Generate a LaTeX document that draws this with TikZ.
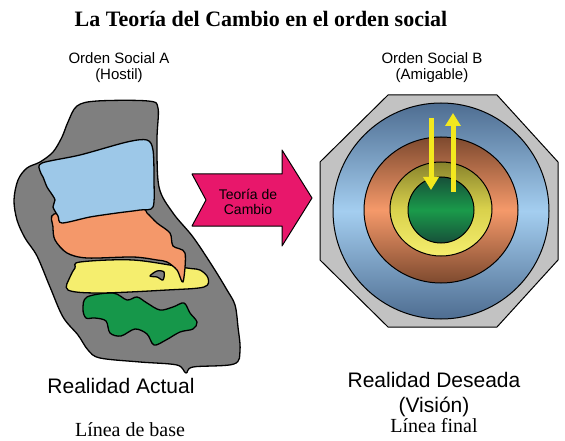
\documentclass[tikz,border=0pt]{standalone}
\usepackage{fontspec}
\setmainfont{Liberation Serif}
\newfontfamily\handfont{Liberation Sans}
\usetikzlibrary{arrows.meta}

\definecolor{blobgray}{HTML}{7F7F7F}
\definecolor{skyblue}{HTML}{9DC8E8}
\definecolor{salmon}{HTML}{F4986A}
\definecolor{paleyellow}{HTML}{F5EE6E}
\definecolor{leafgreen}{HTML}{16974A}
\definecolor{hotpink}{HTML}{E8176B}
\definecolor{octgray}{HTML}{C2C2C2}
\definecolor{arrowyellow}{HTML}{F3E81E}
\definecolor{slateblue}{HTML}{4E6D91}
\definecolor{lightblue}{HTML}{A4CEF0}
\definecolor{rust}{HTML}{7E4A2F}
\definecolor{lightsalmon}{HTML}{F5996A}
\definecolor{olivegold}{HTML}{88832C}
\definecolor{midyellow}{HTML}{D9D14C}
\definecolor{darkgreen}{HTML}{17503A}
\definecolor{midgreen}{HTML}{1A9A4A}

\begin{document}
\begin{tikzpicture}[x=1pt,y=-1pt,
    blob/.style={draw=black,line width=1.3pt,line join=round},
    hand/.style={font=\handfont\fontsize{15}{16}\selectfont,align=center,inner sep=0pt},
    big/.style={font=\handfont\fontsize{21}{25}\selectfont,align=center,inner sep=0pt},
    serif/.style={font=\fontsize{20}{24}\selectfont,inner sep=0pt},
    ring/.style={draw=black,line width=1pt},
    flow/.style={arrowyellow,line width=5pt,-{Triangle[width=15pt,length=13pt]}}]

  \useasboundingbox (0,0) rectangle (565,441);

  \node[font=\bfseries\fontsize{22}{26}\selectfont,anchor=base,inner sep=0pt]
       (title) at (261,27) {La Teoría del Cambio en el orden social};

  \node[hand,anchor=north] (ordA) at (119,52) {Orden Social A\\(Hostil)};
  \node[hand,anchor=north] (ordB) at (432,52) {Orden Social B\\(Amigable)};

  % realidad actual
  \path[blob,fill=blobgray] plot[smooth cycle,tension=0.55] coordinates {
    (77,106) (97,101) (148,101) (158,108) (157,140) (159,187) (173,213)
    (193,237) (213,267) (227,290) (235,305) (238,327) (240,350) (234,364)
    (193,367) (186,373) (177,365) (140,362) (100,358) (88,350) (78,335)
    (63,317) (50,287) (37,256) (25,238) (17,220) (14,200) (18,180)
    (27,168) (40,162) (53,152) (62,137) (68,122)};
  \path[blob,fill=leafgreen] plot[smooth cycle,tension=0.55] coordinates {
    (87,297) (113,293) (127,300) (137,297) (147,303) (160,310) (173,307)
    (184,303) (190,313) (197,322) (193,329) (180,332) (166,340) (154,345)
    (147,334) (135,329) (121,336) (110,333) (106,321) (95,318) (86,318)
    (83,309)};
  \path[blob,fill=paleyellow] plot[smooth cycle,tension=0.55] coordinates {
    (80,262) (133,260) (187,268) (200,270) (208,278) (204,287) (167,290)
    (100,293) (68,290) (70,277) (75,268)};
  \path[blob,fill=blobgray] plot[smooth cycle,tension=0.5] coordinates {
    (150,276) (157,271) (164,272) (163,280) (157,277)};
  \path[blob,fill=salmon] plot[smooth cycle,tension=0.5] coordinates {
    (54,214) (90,215) (140,209) (147,213) (157,223) (170,233) (173,246)
    (185,253) (183,282) (177,270) (167,262) (157,260) (133,257) (87,258)
    (67,253) (55,240) (53,227)};
  \path[blob,fill=skyblue] plot[smooth cycle,tension=0.5] coordinates {
    (42,163) (80,155) (127,142) (147,140) (153,150) (154,180) (153,207)
    (140,210) (117,213) (90,217) (62,223) (58,216) (53,207) (55,200)
    (51,193) (47,187) (43,177) (40,171)};

  % teoria de cambio
  \path[draw=black,line width=1pt,line join=round,fill=hotpink]
    (192,174) -- (282,174) -- (282,150) -- (312,198) -- (282,246)
    -- (282,226) -- (192,226) -- (206,200) -- cycle;
  \node[hand,font=\handfont\fontsize{14}{15.5}\selectfont] (tc) at (248,202) {Teoría de\\Cambio};

  % realidad deseada
  \path[draw=black,line width=1pt,fill=octgray]
    (388,95) -- (497,95) -- (558,162) -- (558,260) -- (497,327)
    -- (388,327) -- (320,260) -- (320,162) -- cycle;
  \path[ring,top color=slateblue,bottom color=slateblue,middle color=lightblue]
    (441,211) circle (108);
  \path[ring,top color=rust,bottom color=rust,middle color=lightsalmon]
    (441,210) ellipse (77 and 73);
  \path[ring,top color=olivegold,bottom color=paleyellow,middle color=midyellow]
    (441,209) ellipse (51 and 47);
  \path[ring,top color=darkgreen,bottom color=darkgreen,middle color=midgreen]
    (441,210) circle (33);

  \coordinate (dnA) at (431,118);
  \coordinate (dnB) at (431,190);
  \coordinate (upA) at (453,192);
  \coordinate (upB) at (453,113);
  \draw[flow] (dnA) -- (dnB);
  \draw[flow] (upA) -- (upB);

  \node[big,anchor=base] (actual) at (121,393) {Realidad Actual};
  \node[big,anchor=north] (deseada) at (434,372) {Realidad Deseada\\(Visión)};
  \node[serif,anchor=base] (base) at (130,436) {Línea de base};
  \node[serif,anchor=base] (final) at (434,432) {Línea final};
\end{tikzpicture}
\end{document}
